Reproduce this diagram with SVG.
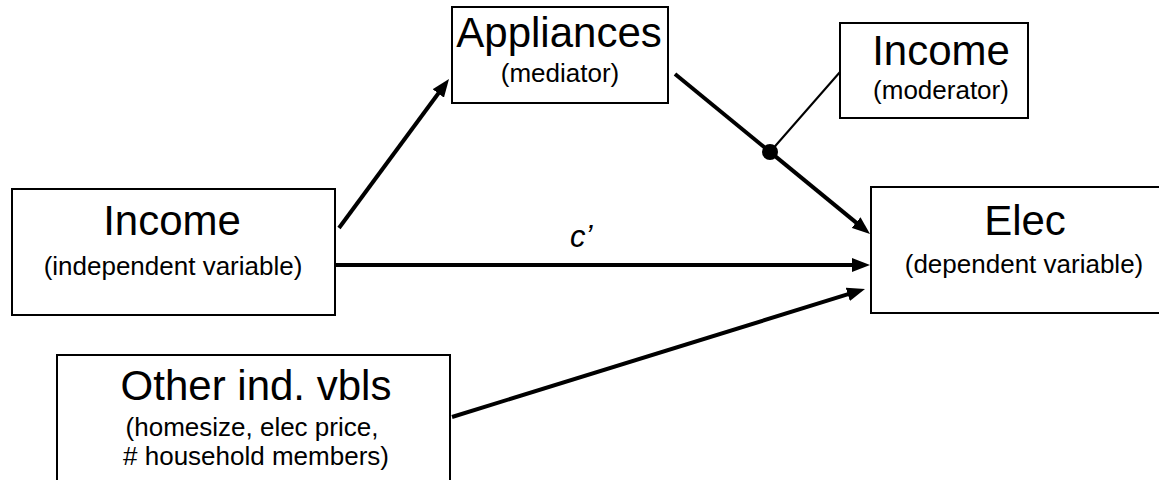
<svg xmlns="http://www.w3.org/2000/svg" width="1159" height="480" viewBox="0 0 1159 480">
<style>
.box{fill:#fff;stroke:#000;stroke-width:2}
.big{font-family:"Liberation Sans",Arial,sans-serif;font-size:42px;text-anchor:middle;fill:#000}
.small{font-family:"Liberation Sans",Arial,sans-serif;font-size:26px;text-anchor:middle;fill:#000}
.arr{stroke:#000;stroke-width:4;fill:none;marker-end:url(#ah)}
</style>
<defs>
<marker id="ah" markerUnits="userSpaceOnUse" markerWidth="18" markerHeight="14" viewBox="0 0 18 14" refX="8" refY="7" orient="auto">
<path d="M0,0 L18,7 L0,14 Z" fill="#000"/>
</marker>
</defs>
<rect width="1159" height="480" fill="#fff"/>
<g id="connectors">
<line class="arr" x1="339" y1="228" x2="443.06" y2="87.05"/>
<line class="arr" x1="675" y1="74" x2="862.27" y2="227.66"/>
<line class="arr" x1="335" y1="265" x2="860" y2="265"/>
<line class="arr" x1="452" y1="417" x2="855.45" y2="291.96"/>
<line x1="770" y1="152" x2="840" y2="72" stroke="#000" stroke-width="2"/>
<circle cx="770" cy="152" r="8" fill="#000"/>
<text x="570" y="247" font-family="Liberation Sans, Arial, sans-serif" font-size="31" font-style="italic">c’</text>
</g>
<g id="appliances">
<rect class="box" x="452" y="7" width="216" height="96"/>
<text class="big" x="559" y="47">Appliances</text>
<text class="small" x="560" y="82">(mediator)</text>
</g>
<g id="income-moderator">
<rect class="box" x="840" y="23" width="188" height="95"/>
<text class="big" x="941" y="65">Income</text>
<text class="small" x="941" y="99">(moderator)</text>
</g>
<g id="income-independent">
<rect class="box" x="12" y="189" width="323" height="126"/>
<text class="big" x="172" y="235">Income</text>
<text class="small" x="173" y="275">(independent variable)</text>
</g>
<g id="elec">
<rect class="box" x="871" y="187" width="306" height="126"/>
<text class="big" x="1025" y="235">Elec</text>
<text class="small" x="1024" y="273">(dependent variable)</text>
</g>
<g id="other">
<rect class="box" x="57" y="355" width="393" height="140"/>
<text class="big" x="256" y="400">Other ind. vbls</text>
<text class="small" x="252" y="436">(homesize, elec price,</text>
<text class="small" x="256" y="465"># household members)</text>
</g>
</svg>
